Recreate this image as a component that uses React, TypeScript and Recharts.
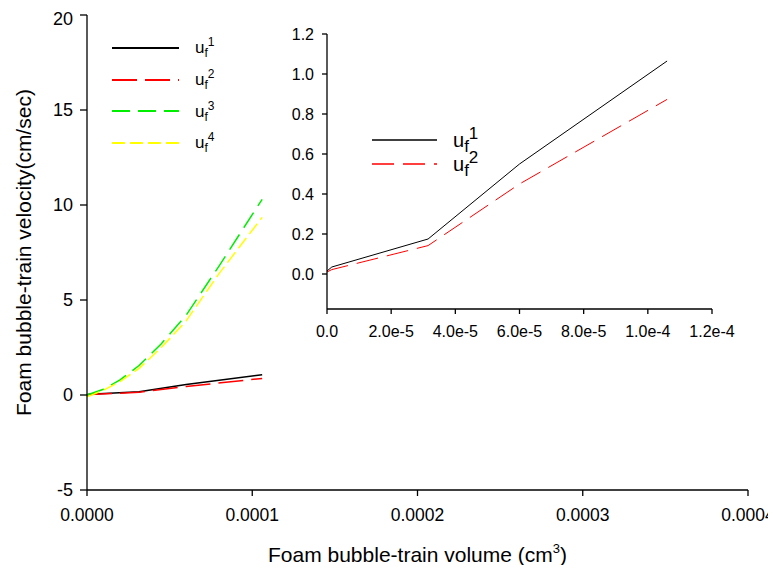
import React from "react";
import { LineChart, Line, XAxis, YAxis, Legend, Label } from "recharts";

const FONT = '"Liberation Sans", Arial, Helvetica, sans-serif';

// volumes (cm^3) at which u_f^1 and u_f^2 were evaluated
const volA = [0, 1.5e-6, 3.15e-5, 6.0e-5, 1.06e-4];
const uf1 = [0.015, 0.035, 0.175, 0.55, 1.065];
const uf2 = [0.01, 0.022, 0.142, 0.45, 0.873];

// volumes (cm^3) for u_f^3 and u_f^4
const volB = [0, 1.0e-5, 2.0e-5, 3.15e-5, 4.5e-5, 6.0e-5, 8.0e-5, 1.06e-4];
const uf3 = [0, 0.3, 0.8, 1.55, 2.7, 4.2, 6.8, 10.3];
const uf4 = [-0.1, 0.25, 0.7, 1.4, 2.5, 3.9, 6.4, 9.35];

const mainXTicks = [0, 0.0001, 0.0002, 0.0003, 0.0004];
const mainYTicks = [-5, 0, 5, 10, 15, 20];
const insetXTicks = [0, 2e-5, 4e-5, 6e-5, 8e-5, 1e-4, 1.2e-4];
const insetYTicks = [0, 0.2, 0.4, 0.6, 0.8, 1.0, 1.2];

type Series = {
  key: string;
  sup: string;
  data: { v: number; u: number }[];
  color: string;
  dash?: string;
  width: number;
};

const toPoints = (vols: number[], vals: number[]) =>
  vols.map((v, i) => ({ v, u: vals[i] }));

const mainSeries: Series[] = [
  { key: "uf1", sup: "1", data: toPoints(volA, uf1), color: "#000000", width: 1.5 },
  { key: "uf2", sup: "2", data: toPoints(volA, uf2), color: "#ff0000", dash: "25 8", width: 1.5 },
  { key: "uf3", sup: "3", data: toPoints(volB, uf3), color: "#00ee00", dash: "18 8", width: 1.5 },
  { key: "uf4", sup: "4", data: toPoints(volB, uf4), color: "#ffff00", dash: "13 5", width: 1.5 },
];

const insetSeries: Series[] = [
  { key: "uf1", sup: "1", data: toPoints(volA, uf1), color: "#000000", width: 1 },
  { key: "uf2", sup: "2", data: toPoints(volA, uf2), color: "#ff0000", dash: "22 9", width: 1 },
];

function LegendBox({
  items,
  rowH,
  lineW,
  gap,
  uSize,
  idxSize,
}: {
  items: Series[];
  rowH: number;
  lineW: number;
  gap: number;
  uSize: number;
  idxSize: number;
}) {
  return (
    <div style={{ fontFamily: FONT, color: "#000" }}>
      {items.map((s) => (
        <div key={s.key} style={{ display: "flex", alignItems: "center", height: rowH }}>
          <svg width={lineW} height={4} style={{ display: "block" }}>
            <line
              x1={0}
              y1={2}
              x2={lineW}
              y2={2}
              stroke={s.color}
              strokeWidth={s.width + 0.3}
              strokeDasharray={s.dash}
            />
          </svg>
          <span style={{ marginLeft: gap, fontSize: uSize, lineHeight: 1 }}>
            u
            <sub style={{ fontSize: idxSize, lineHeight: 0 }}>f</sub>
            <sup style={{ fontSize: idxSize, lineHeight: 0 }}>{s.sup}</sup>
          </span>
        </div>
      ))}
    </div>
  );
}

const yTitle = (props: any) => {
  const vb = props.viewBox;
  const cx = vb.x + 15;
  const cy = vb.y + vb.height / 2;
  return (
    <text
      x={cx}
      y={cy}
      transform={`rotate(-90 ${cx} ${cy})`}
      textAnchor="middle"
      dominantBaseline="central"
      fontSize={21}
      fontFamily={FONT}
      fill="#000"
    >
      Foam bubble-train velocity(cm/sec)
    </text>
  );
};

const xTitle = (props: any) => {
  const vb = props.viewBox;
  return (
    <text
      x={vb.x + vb.width / 2}
      y={vb.y + 72}
      textAnchor="middle"
      fontSize={21}
      fontFamily={FONT}
      fill="#000"
    >
      Foam bubble-train volume (cm
      <tspan dy={-9} fontSize={13}>3</tspan>
      <tspan dy={9}>)</tspan>
    </text>
  );
};

const axisStroke = { stroke: "#000", strokeWidth: 1.3 };

export default function App() {
  return (
    <div style={{ position: "relative", width: 768, height: 557 }}>
      <style>{".recharts-surface{overflow:visible}"}</style>
      <LineChart
        width={768}
        height={557}
        margin={{ top: 7, right: 28, bottom: 15, left: 0 }}
      >
        <XAxis
          dataKey="v"
          type="number"
          domain={[0, 0.0004]}
          ticks={mainXTicks}
          tickFormatter={(v: number) => v.toFixed(4)}
          height={60}
          axisLine={axisStroke}
          tickLine={axisStroke}
          tickSize={6}
          tickMargin={13}
          tick={{ fill: "#000", fontSize: 17.5, fontFamily: FONT }}
          allowDuplicatedCategory={false}
        >
          <Label content={xTitle} />
        </XAxis>
        <YAxis
          type="number"
          domain={[-5, 20]}
          ticks={mainYTicks}
          width={79}
          axisLine={axisStroke}
          tickLine={axisStroke}
          tickSize={7}
          tickMargin={7}
          tick={{ fill: "#000", fontSize: 18, fontFamily: FONT }}
        >
          <Label content={yTitle} />
        </YAxis>
        <XAxis
          xAxisId="top"
          orientation="top"
          type="number"
          domain={[0, 0.0004]}
          height={0}
          tick={false}
          tickLine={false}
          axisLine={axisStroke}
        />
        <YAxis
          yAxisId="right"
          orientation="right"
          type="number"
          domain={[-5, 20]}
          width={0}
          tick={false}
          tickLine={false}
          axisLine={axisStroke}
        />
        {mainSeries.map((s) => (
          <Line
            key={s.key}
            data={s.data}
            dataKey="u"
            name={s.key}
            type="linear"
            stroke={s.color}
            strokeWidth={s.width}
            strokeDasharray={s.dash}
            dot={false}
            activeDot={false}
            isAnimationActive={false}
          />
        ))}
        <Legend
          layout="horizontal"
          verticalAlign="middle"
          align="center"
          wrapperStyle={{ left: 104, top: 24, width: 160, height: 130 }}
          content={() => (
            <LegendBox items={mainSeries} rowH={31.7} lineW={67} gap={16} uSize={17} idxSize={12} />
          )}
        />
      </LineChart>

      <div style={{ position: "absolute", left: 272, top: 12 }}>
        <LineChart
          width={470}
          height={340}
          margin={{ top: 14, right: 38, bottom: 11, left: 0 }}
        >
          <XAxis
            dataKey="v"
            type="number"
            domain={[0, 1.2e-4]}
            ticks={insetXTicks}
            tickFormatter={(v: number) => (v === 0 ? "0.0" : v.toExponential(1))}
            height={40}
            axisLine={axisStroke}
            tickLine={axisStroke}
            tickSize={5}
            tickMargin={12}
            tick={{ fill: "#000", fontSize: 16, fontFamily: FONT }}
            allowDuplicatedCategory={false}
          />
          <YAxis
            type="number"
            domain={[-0.175, 1.2]}
            ticks={insetYTicks}
            tickFormatter={(v: number) => v.toFixed(1)}
            width={47}
            axisLine={axisStroke}
            tickLine={axisStroke}
            tickSize={5}
            tickMargin={8}
            tick={{ fill: "#000", fontSize: 16, fontFamily: FONT }}
          />
          <XAxis
            xAxisId="top"
            orientation="top"
            type="number"
            domain={[0, 1.2e-4]}
            height={0}
            tick={false}
            tickLine={false}
            axisLine={axisStroke}
          />
          <YAxis
            yAxisId="right"
            orientation="right"
            type="number"
            domain={[-0.175, 1.2]}
            width={0}
            tick={false}
            tickLine={false}
            axisLine={axisStroke}
          />
          {insetSeries.map((s) => (
            <Line
              key={s.key}
              data={s.data}
              dataKey="u"
              name={s.key}
              type="linear"
              stroke={s.color}
              strokeWidth={s.width}
              strokeDasharray={s.dash}
              dot={false}
              activeDot={false}
              isAnimationActive={false}
            />
          ))}
          <Legend
            layout="horizontal"
            verticalAlign="middle"
            align="center"
            wrapperStyle={{ left: 92, top: 108, width: 140, height: 50 }}
            content={() => (
              <LegendBox items={insetSeries} rowH={24} lineW={65} gap={16} uSize={20} idxSize={17} />
            )}
          />
        </LineChart>
      </div>
    </div>
  );
}
